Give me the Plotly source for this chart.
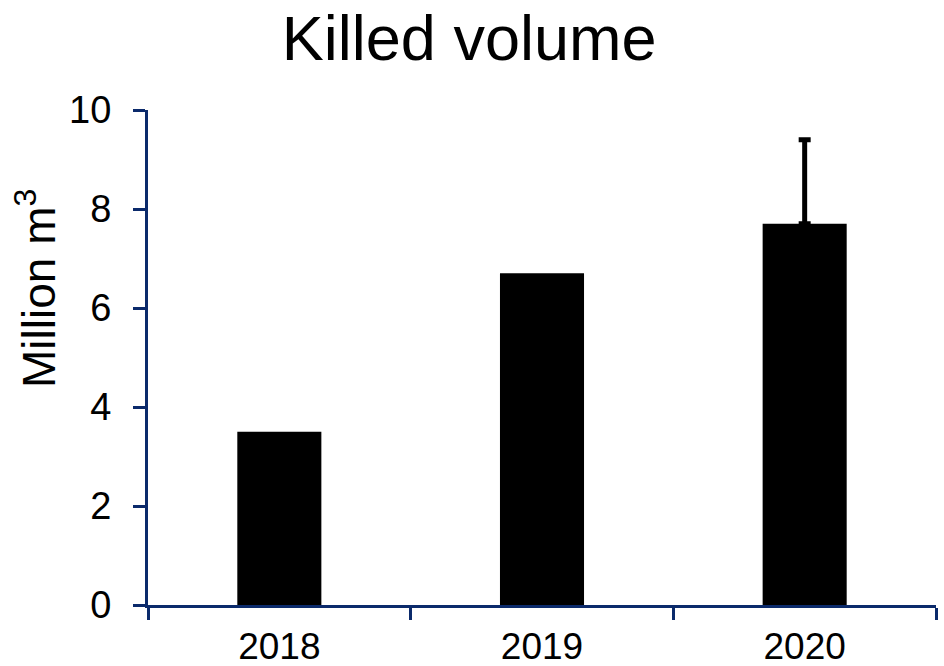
import plotly.graph_objects as go

years = ["2018", "2019", "2020"]
volumes = [3.5, 6.7, 7.7]
err_plus = [0, 0, 1.7]
y_ticks = [0, 2, 4, 6, 8, 10]

navy = "#0b2a6b"
font_family = "Liberation Sans, Arial, sans-serif"

L, R, T, B = 148, 8, 110, 61
W, H = 944, 666
pw, ph = W - L - R, H - T - B

fig = go.Figure()
fig.add_trace(go.Bar(
    x=years, y=volumes, width=0.32,
    marker=dict(color="black", line=dict(width=0)),
))
# error bars only where an error exists
ex = [yr for yr, e in zip(years, err_plus) if e > 0]
ey = [v for v, e in zip(volumes, err_plus) if e > 0]
ee = [e for e in err_plus if e > 0]
fig.add_trace(go.Scatter(
    x=ex, y=ey, mode="markers", marker=dict(size=1, opacity=0),
    error_y=dict(type="data", symmetric=False, array=ee,
                 arrayminus=[0] * len(ee), color="black", thickness=5, width=6),
    hoverinfo="skip",
))

fig.update_layout(
    width=W, height=H,
    margin=dict(l=L, r=R, t=T, b=B, autoexpand=False),
    paper_bgcolor="white", plot_bgcolor="white",
    showlegend=False,
    font=dict(family=font_family, color="black"),
    title=dict(text="Killed volume", x=0.497, xanchor="center",
               y=1 - 38 / H, yanchor="middle", yref="container",
               font=dict(size=63, family=font_family, color="black")),
)
fig.update_xaxes(
    type="category", range=[-0.5, 2.5], tickson="boundaries",
    showline=True, linecolor=navy, linewidth=3,
    ticks="outside", ticklen=12, tickwidth=3, tickcolor=navy,
    tickfont=dict(size=37), showgrid=False, zeroline=False,
    ticklabelstandoff=7, automargin=False,
)
fig.update_yaxes(
    range=[0, 10], tickvals=y_ticks,
    showline=True, linecolor=navy, linewidth=3,
    ticks="outside", ticklen=12, tickwidth=3, tickcolor=navy,
    tickfont=dict(size=38), showgrid=False, zeroline=False,
    ticklabelstandoff=14, automargin=False,
)
fig.add_annotation(
    text="Million m<sup>3</sup>", textangle=-90, showarrow=False,
    xref="paper", yref="paper",
    x=(36 - L) / pw, y=(H - B - 288) / ph,
    xanchor="center", yanchor="middle",
    font=dict(size=46, family=font_family, color="black"),
)

fig.write_html("out.html")
